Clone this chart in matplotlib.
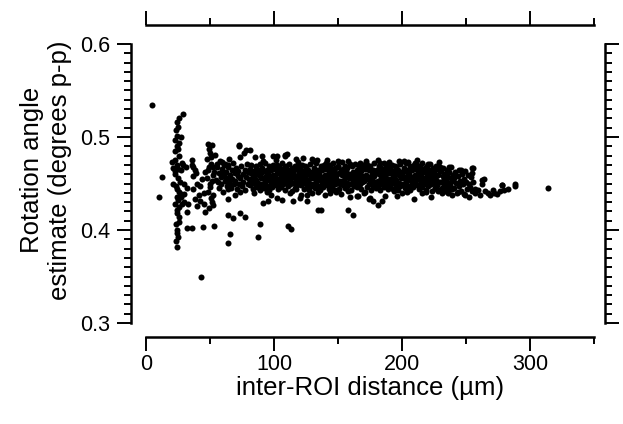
import matplotlib
matplotlib.use('Agg')
import matplotlib.pyplot as plt
from matplotlib.ticker import MultipleLocator, FormatStrFormatter

plt.rcParams['font.family'] = ['Liberation Sans', 'DejaVu Sans']

# ---------------- data ----------------
# sparse points near the origin (x < 56 um)
left_x = [4.9, 12.2, 10.4, 28.6, 26.0, 24.5, 23.4, 24.5, 25.3, 26.0, 22.6, 20.0, 24.0, 28.0,
          22.6, 25.3, 21.4, 24.0, 27.0, 29.6, 25.3, 28.0, 24.0, 26.0, 24.5, 25.3, 24.5,
          23.0, 24.0, 22.5, 25.0, 23.0, 27.0, 21.0, 26.5, 23.5, 25.5, 27.5, 24.5, 23.0, 26.0,
          24.5, 25.5, 23.5, 24.5, 23.5, 25.0, 27.0, 26.0, 29.0, 31.0, 30.0, 32.0, 30.0, 33.0,
          35.7, 38.0, 36.5,
          35.7, 37.0, 39.0, 40.0, 37.0, 41.7, 38.3, 42.0, 45.0, 39.6, 32.3, 32.3, 36.2, 44.5,
          53.0, 46.0, 43.0,
          48.7, 51.3, 50.0, 54.0, 47.4, 50.5, 52.6, 48.7, 52.0, 47.4, 51.3, 50.0, 48.7, 50.5,
          52.6, 54.7, 55.2, 49.5, 51.0, 49.0, 53.0, 49.8, 52.0, 51.5, 49.2, 46.0, 44.0, 42.5, 45.5]
left_y = [0.534, 0.457, 0.436, 0.525, 0.520, 0.516, 0.508, 0.501, 0.487, 0.480, 0.475, 0.473, 0.470, 0.472,
          0.460, 0.456, 0.449, 0.444, 0.439, 0.439, 0.432, 0.428, 0.421, 0.414, 0.400, 0.393, 0.382,
          0.497, 0.490, 0.485, 0.466, 0.463, 0.465, 0.467, 0.452, 0.447, 0.441, 0.435, 0.436, 0.428, 0.425,
          0.418, 0.409, 0.406, 0.397, 0.388, 0.511, 0.500, 0.494, 0.470, 0.468, 0.449, 0.445, 0.430, 0.428,
          0.470, 0.465, 0.458,
          0.475, 0.468, 0.461, 0.450, 0.444, 0.438, 0.433, 0.431, 0.428, 0.426, 0.419, 0.402, 0.402, 0.403,
          0.404, 0.419, 0.349,
          0.492, 0.491, 0.483, 0.481, 0.476, 0.471, 0.468, 0.464, 0.459, 0.456, 0.453, 0.446, 0.441, 0.434,
          0.427, 0.454, 0.471, 0.487, 0.478, 0.468, 0.462, 0.450, 0.438, 0.430, 0.424, 0.462, 0.455, 0.447, 0.440]

# scattered points between 55 and 82 um
mid_x = [59.0, 61.7, 64.3, 60.4, 63.0, 65.6, 64.3, 64.3, 65.6, 64.3, 68.0, 73.2, 77.0, 72.6,
         69.3, 73.2, 64.3, 73.0, 78.0, 81.0]
mid_y = [0.473, 0.471, 0.470, 0.460, 0.454, 0.449, 0.444, 0.433, 0.396, 0.386, 0.413, 0.418, 0.414, 0.490,
         0.438, 0.441, 0.416, 0.491, 0.486, 0.486]

# lower fringe of the main band
low_x = [89.0, 87.8, 91.6, 95.5, 102.0, 106.0, 111.0, 113.0, 115.0, 120.0, 125.5, 134.6, 137.0, 140.0,
         144.0, 146.7, 158.0, 161.5, 159.4, 166.0, 175.0, 177.0, 181.5, 112.5, 121.0, 126.0, 148.5,
         165.0, 174.0, 184.0, 187.0, 193.5, 200.0, 204.0, 209.0, 215.5, 223.0, 231.0, 239.0, 249.0,
         252.0, 257.0, 84.0, 98.0, 130.0, 152.0, 170.0, 196.0, 219.0, 228.0, 236.0, 244.0]
low_y = [0.406, 0.392, 0.429, 0.431, 0.434, 0.432, 0.404, 0.401, 0.431, 0.434, 0.438, 0.421, 0.421, 0.438,
         0.440, 0.443, 0.421, 0.416, 0.436, 0.437, 0.434, 0.431, 0.427, 0.4395, 0.438, 0.431, 0.441,
         0.4365, 0.433, 0.4315, 0.4365, 0.4415, 0.4395, 0.4415, 0.4333, 0.4395, 0.436, 0.4395, 0.438, 0.438,
         0.436, 0.4445, 0.440, 0.438, 0.440, 0.439, 0.440, 0.437, 0.441, 0.442, 0.440, 0.441]

# upper fringe of the main band
high_x = [90.5, 99.6, 102.0, 108.6, 110.0, 123.0, 129.6, 133.6, 141.0, 144.0, 158.0, 167.0, 172.0,
          183.0, 210.0, 229.0, 246.0, 255.0, 254.4, 108.6, 85.0, 117.0, 150.0, 190.0, 198.0, 205.0,
          220.0, 237.0]
high_y = [0.480, 0.4796, 0.480, 0.4796, 0.482, 0.4775, 0.4765, 0.475, 0.472, 0.470, 0.4745, 0.472, 0.472,
          0.472, 0.472, 0.4664, 0.4645, 0.4664, 0.461, 0.4806, 0.478, 0.476, 0.474, 0.473, 0.474, 0.4735,
          0.471, 0.468]

# sparse tail beyond 255 um
tail_x = [255.7, 264.3, 262.3, 262.3, 261.0, 267.5, 271.4, 272.0, 276.6, 278.0, 277.9, 288.0, 288.0,
          314.3, 257.0, 259.0, 265.0, 269.0, 274.0, 280.0, 283.0]
tail_y = [0.4664, 0.455, 0.4534, 0.450, 0.438, 0.440, 0.4434, 0.440, 0.4416, 0.4484, 0.4484, 0.450, 0.4475,
          0.4448, 0.440, 0.443, 0.442, 0.438, 0.439, 0.443, 0.4445]

# dense main band (55 - 256 um)
band_x = [
    55.5, 56.2, 56.8, 57.3, 57.9, 58.4, 58.8, 59.5, 60.1, 60.6, 61.2, 61.7, 62.3, 62.9, 63.4, 64.0,
    64.6, 65.1, 65.8, 66.4, 66.9, 67.5, 68.1, 68.6, 69.2, 69.8, 70.3, 70.9, 71.5, 72.0, 72.6, 73.1,
    73.7, 74.3, 74.8, 75.4, 76.0, 76.6, 77.1, 77.7, 78.2, 78.8, 79.3, 79.9,
    80.4, 80.9, 81.5, 82.0, 82.4, 82.9, 83.3, 83.8, 84.2, 84.7, 85.1, 85.6, 86.0, 86.5, 86.9, 87.4,
    87.8, 88.3, 88.7, 89.2, 89.6, 80.2, 83.0, 86.2, 88.9,
    90.1, 90.6, 91.0, 91.5, 91.9, 92.4, 92.8, 93.3, 93.7, 94.2, 94.6, 95.1, 95.5, 96.0, 96.4, 96.9,
    97.3, 97.8, 98.2, 98.7, 99.1, 99.6, 91.2, 94.9, 97.6,
    100.2, 100.7, 101.1, 101.6, 102.0, 102.5, 102.9, 103.4, 103.8, 104.3, 104.7, 105.2, 105.6, 106.1,
    106.5, 107.0, 107.4, 107.9, 108.3, 108.8, 109.2, 109.7, 101.3, 104.0, 106.8, 109.0,
    110.3, 110.7, 111.2, 111.6, 112.1, 112.5, 113.0, 113.4, 113.9, 114.3, 114.8, 115.2, 115.7, 116.1,
    116.6, 117.0, 117.5, 117.9, 118.4, 118.8, 119.3, 119.7, 111.9, 114.6, 117.3, 119.0,
    120.2, 120.6, 121.1, 121.5, 122.0, 122.4, 122.9, 123.3, 123.8, 124.2, 124.7, 125.1, 125.6, 126.0,
    126.5, 126.9, 127.4, 127.8, 128.3, 128.7, 129.2, 129.6, 121.8, 124.5, 127.1, 129.9,
    130.1, 130.5, 131.0, 131.4, 131.9, 132.3, 132.8, 133.2, 133.7, 134.1, 134.6, 135.0, 135.5, 135.9,
    136.4, 136.8, 137.3, 137.7, 138.2, 138.6, 139.1, 139.5, 131.6, 134.4, 137.0, 139.8,
    140.3, 140.8, 141.2, 141.7, 142.1, 142.6, 143.0, 143.5, 143.9, 144.4, 144.8, 145.3, 145.7, 146.2,
    146.6, 147.1, 147.5, 148.0, 148.4, 148.9, 149.3, 149.8, 141.5, 144.1, 146.9, 149.1,
    150.2, 150.6, 151.1, 151.5, 152.0, 152.4, 152.9, 153.3, 153.8, 154.2, 154.7, 155.1, 155.6, 156.0,
    156.5, 156.9, 157.4, 157.8, 158.3, 158.7, 159.2, 159.6, 151.8, 154.5, 157.1, 159.9,
    160.1, 160.5, 161.0, 161.4, 161.9, 162.3, 162.8, 163.2, 163.7, 164.1, 164.6, 165.0, 165.5, 165.9,
    166.4, 166.8, 167.3, 167.7, 168.2, 168.6, 169.1, 169.5, 161.6, 164.4, 167.0, 169.8,
    170.3, 170.8, 171.2, 171.7, 172.1, 172.6, 173.0, 173.5, 173.9, 174.4, 174.8, 175.3, 175.7, 176.2,
    176.6, 177.1, 177.5, 178.0, 178.4, 178.9, 179.3, 179.8, 171.5, 174.1, 176.9, 179.1,
    180.2, 180.6, 181.1, 181.5, 182.0, 182.4, 182.9, 183.3, 183.8, 184.2, 184.7, 185.1, 185.6, 186.0,
    186.5, 186.9, 187.4, 187.8, 188.3, 188.7, 189.2, 189.6, 181.8, 184.5, 187.1, 189.9,
    190.1, 190.5, 191.0, 191.4, 191.9, 192.3, 192.8, 193.2, 193.7, 194.1, 194.6, 195.0, 195.5, 195.9,
    196.4, 196.8, 197.3, 197.7, 198.2, 198.6, 199.1, 199.5, 191.6, 194.4, 197.0, 199.8,
    200.3, 200.8, 201.2, 201.7, 202.1, 202.6, 203.0, 203.5, 203.9, 204.4, 204.8, 205.3, 205.7, 206.2,
    206.6, 207.1, 207.5, 208.0, 208.4, 208.9, 209.3, 209.8, 201.5, 204.1, 206.9, 209.1,
    210.2, 210.6, 211.1, 211.5, 212.0, 212.4, 212.9, 213.3, 213.8, 214.2, 214.7, 215.1, 215.6, 216.0,
    216.5, 216.9, 217.4, 217.8, 218.3, 218.7, 219.2, 219.6, 211.8, 214.5, 217.1, 219.9,
    220.1, 220.5, 221.0, 221.4, 221.9, 222.3, 222.8, 223.2, 223.7, 224.1, 224.6, 225.0, 225.5, 225.9,
    226.4, 226.8, 227.3, 227.7, 228.2, 228.6, 229.1, 229.5, 221.6, 224.4, 227.0, 229.8,
    230.3, 230.8, 231.2, 231.7, 232.1, 232.6, 233.0, 233.5, 233.9, 234.4, 234.8, 235.3, 235.7, 236.2,
    236.6, 237.1, 237.5, 238.0, 238.4, 238.9, 239.3, 239.8,
    240.4, 241.0, 241.7, 242.3, 243.0, 243.6, 244.3, 244.9, 245.6, 246.2, 246.9, 247.5, 248.2, 248.8,
    249.5, 250.1, 250.8, 251.4,
    252.2, 253.0, 253.9, 254.7, 255.6]
band_y = [
    0.468, 0.452, 0.461, 0.445, 0.474, 0.457, 0.449, 0.466, 0.441, 0.458, 0.470, 0.453, 0.462, 0.447, 0.456, 0.468,
    0.451, 0.476, 0.459, 0.445, 0.464, 0.455, 0.472, 0.449, 0.461, 0.453, 0.467, 0.444, 0.458, 0.463, 0.450, 0.478,
    0.456, 0.469, 0.447, 0.460, 0.452, 0.483, 0.465, 0.443, 0.457, 0.471, 0.449, 0.462,
    0.455, 0.466, 0.448, 0.461, 0.470, 0.452, 0.458, 0.444, 0.463, 0.457, 0.449, 0.468, 0.454, 0.460, 0.446, 0.465,
    0.451, 0.459, 0.471, 0.447, 0.456, 0.462, 0.453, 0.469, 0.443,
    0.461, 0.450, 0.467, 0.456, 0.445, 0.463, 0.452, 0.472, 0.458, 0.447, 0.465, 0.454, 0.460, 0.443, 0.469, 0.457,
    0.449, 0.464, 0.455, 0.446, 0.470, 0.459, 0.474, 0.441, 0.466,
    0.452, 0.466, 0.457, 0.448, 0.470, 0.461, 0.444, 0.455, 0.468, 0.450, 0.463, 0.458, 0.446, 0.472,
    0.454, 0.462, 0.449, 0.467, 0.456, 0.443, 0.460, 0.469, 0.475, 0.453, 0.465, 0.451,
    0.458, 0.447, 0.464, 0.453, 0.471, 0.449, 0.460, 0.456, 0.442, 0.467, 0.451, 0.462, 0.457, 0.445,
    0.469, 0.454, 0.466, 0.448, 0.459, 0.473, 0.452, 0.463, 0.450, 0.461, 0.444, 0.468,
    0.455, 0.466, 0.448, 0.461, 0.470, 0.452, 0.458, 0.444, 0.463, 0.457, 0.449, 0.468, 0.454, 0.460,
    0.446, 0.465, 0.451, 0.459, 0.471, 0.447, 0.456, 0.462, 0.453, 0.469, 0.443, 0.458,
    0.461, 0.450, 0.467, 0.456, 0.445, 0.463, 0.452, 0.472, 0.458, 0.447, 0.465, 0.454, 0.460, 0.443,
    0.469, 0.457, 0.449, 0.464, 0.455, 0.446, 0.470, 0.459, 0.474, 0.441, 0.466, 0.453,
    0.452, 0.466, 0.457, 0.448, 0.470, 0.461, 0.444, 0.455, 0.468, 0.450, 0.463, 0.458, 0.446, 0.472,
    0.454, 0.462, 0.449, 0.467, 0.456, 0.443, 0.460, 0.469, 0.475, 0.453, 0.465, 0.451,
    0.468, 0.444, 0.461, 0.450, 0.463, 0.452, 0.473, 0.459, 0.448, 0.466, 0.454, 0.469, 0.445, 0.457,
    0.462, 0.451, 0.467, 0.442, 0.456, 0.460, 0.449, 0.471, 0.453, 0.464, 0.447, 0.458,
    0.458, 0.443, 0.469, 0.453, 0.462, 0.456, 0.447, 0.471, 0.459, 0.451, 0.465, 0.446, 0.460, 0.454,
    0.468, 0.449, 0.457, 0.463, 0.444, 0.458, 0.452, 0.470, 0.461, 0.448, 0.466, 0.455,
    0.453, 0.466, 0.441, 0.474, 0.459, 0.470, 0.446, 0.455, 0.464, 0.449, 0.457, 0.469, 0.443, 0.460,
    0.454, 0.465, 0.447, 0.458, 0.472, 0.452, 0.463, 0.445, 0.456, 0.467, 0.450, 0.461,
    0.451, 0.465, 0.453, 0.475, 0.469, 0.460, 0.443, 0.456, 0.467, 0.449, 0.462, 0.454, 0.472, 0.446,
    0.458, 0.463, 0.450, 0.468, 0.455, 0.444, 0.461, 0.470, 0.448, 0.457, 0.466, 0.452,
    0.455, 0.466, 0.448, 0.461, 0.470, 0.452, 0.458, 0.444, 0.463, 0.457, 0.449, 0.468, 0.454, 0.460,
    0.446, 0.465, 0.451, 0.459, 0.471, 0.447, 0.456, 0.462, 0.453, 0.469, 0.443, 0.458,
    0.461, 0.450, 0.467, 0.456, 0.445, 0.463, 0.452, 0.472, 0.458, 0.447, 0.465, 0.454, 0.460, 0.443,
    0.469, 0.457, 0.449, 0.464, 0.455, 0.446, 0.470, 0.459, 0.474, 0.441, 0.466, 0.453,
    0.452, 0.466, 0.457, 0.448, 0.470, 0.461, 0.444, 0.455, 0.468, 0.450, 0.463, 0.458, 0.446, 0.472,
    0.454, 0.462, 0.449, 0.467, 0.456, 0.443, 0.460, 0.469, 0.475, 0.453, 0.465, 0.451,
    0.458, 0.447, 0.464, 0.453, 0.471, 0.449, 0.460, 0.456, 0.442, 0.467, 0.451, 0.462, 0.457, 0.445,
    0.469, 0.454, 0.466, 0.448, 0.459, 0.473, 0.452, 0.463, 0.450, 0.461, 0.444, 0.468,
    0.452, 0.463, 0.445, 0.458, 0.467, 0.449, 0.455, 0.442, 0.460, 0.454, 0.446, 0.465, 0.451, 0.457,
    0.443, 0.462, 0.448, 0.456, 0.468, 0.444, 0.453, 0.459,
    0.456, 0.445, 0.462, 0.451, 0.440, 0.458, 0.447, 0.465, 0.453, 0.442, 0.460, 0.449, 0.455, 0.439,
    0.463, 0.452, 0.444, 0.459,
    0.450, 0.446, 0.457, 0.442, 0.452]

# ---------------- figure ----------------
fig = plt.figure(figsize=(6.23, 4.24), dpi=100)
ax = fig.add_axes([146 / 623, 1 - 323 / 424, (594 - 146) / 623, (323 - 44) / 424])

for xs, ys in [(left_x, left_y), (mid_x, mid_y), (low_x, low_y), (high_x, high_y),
               (tail_x, tail_y), (band_x, band_y)]:
    ax.scatter(xs, ys, s=19, c='black', linewidths=0, zorder=3)

ax.set_xlim(0, 350)
ax.set_ylim(0.3, 0.6)

ax.spines['left'].set_position(('outward', 11))
ax.spines['bottom'].set_position(('outward', 10))
ax.spines['top'].set_position(('outward', 14))
ax.spines['right'].set_position(('outward', 8))
for sp in ax.spines.values():
    sp.set_linewidth(1.8)

ax.xaxis.set_major_locator(MultipleLocator(100))
ax.xaxis.set_minor_locator(MultipleLocator(50))
ax.yaxis.set_major_locator(MultipleLocator(0.1))
ax.yaxis.set_minor_locator(MultipleLocator(0.01))
ax.yaxis.set_major_formatter(FormatStrFormatter('%.1f'))

ax.tick_params(which='both', direction='out', top=True, right=True,
               labeltop=False, labelright=False, width=1.4, colors='black')
ax.tick_params(which='major', length=10, labelsize=15.5)
ax.tick_params(which='minor', length=5)
ax.tick_params(axis='x', which='major', pad=2)
ax.tick_params(axis='y', which='major', pad=5)

fig.text(46 / 623, 1 - 170 / 424, 'Rotation angle\nestimate (degrees p-p)', rotation=90,
         ha='center', va='center', multialignment='center', fontsize=18.5, linespacing=1.22)
fig.text(370 / 623, 1 - 388 / 424, 'inter-ROI distance (µm)', ha='center', va='center',
         fontsize=18.5)

fig.savefig('out.png', dpi=100, facecolor='white')
